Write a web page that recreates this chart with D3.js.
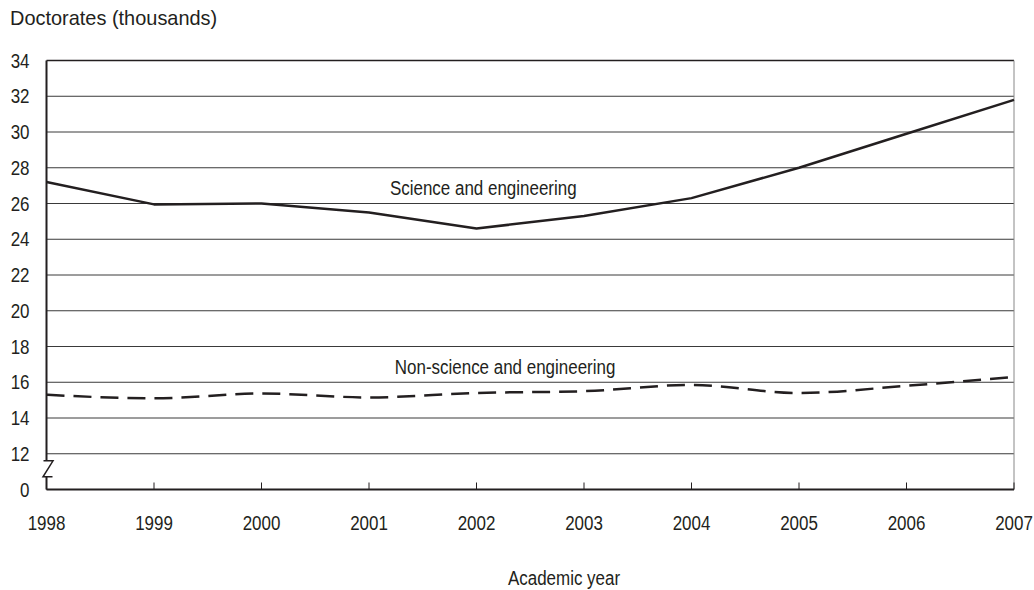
<!DOCTYPE html>
<html>
<head>
<meta charset="utf-8">
<script src="https://cdn.jsdelivr.net/npm/d3@7"></script>
<style>
  body { margin: 0; background: #fff; }
  svg text { font-family: "Liberation Sans", Arial, sans-serif; fill: #231f20; }
</style>
</head>
<body>
<div id="chart"></div>
<script>
// data
let years = [1998, 1999, 2000, 2001, 2002, 2003, 2004, 2005, 2006, 2007];
let scienceEng = [27.2, 25.95, 26.0, 25.5, 24.6, 25.3, 26.3, 28.0, 29.9, 31.8];
let nonScienceEng = [15.3, 15.1, 15.37, 15.15, 15.4, 15.5, 15.85, 15.4, 15.8, 16.3];
let yTicks = [0, 12, 14, 16, 18, 20, 22, 24, 26, 28, 30, 32, 34];

let svgWidth = 1034, svgHeight = 590;
let margin = { top: 60.5, left: 46.5 };
let width = 1014 - margin.left;
let height = 489.5 - margin.top;

// the reference type is a slightly condensed sans
let squeeze = 0.87;
function place(x, y, sx) {
    return 'translate(' + x + ',' + y + ') scale(' + (sx || squeeze) + ',1)';
}

let svg = d3.select('#chart').append('svg')
    .attr('width', svgWidth)
    .attr('height', svgHeight);

let g = svg.append('g')
    .attr('transform', 'translate(' + margin.left + ',' + margin.top + ')');

let x = d3.scaleLinear()
    .domain([d3.min(years), d3.max(years)])
    .range([0, width]);

// broken axis: 0 sits one step below 12
let yLin = d3.scaleLinear().domain([10, 34]).range([height, 0]);
let y = v => v === 0 ? yLin(10) : yLin(v);

// gridlines
g.selectAll('.grid')
    .data(yTicks.filter(t => t !== 0))
    .enter().append('line')
    .attr('x1', 0)
    .attr('x2', width)
    .attr('y1', d => y(d))
    .attr('y2', d => y(d))
    .attr('stroke', d => d === 34 ? '#231f20' : '#3a3a3a')
    .attr('stroke-width', d => d === 34 ? 1.5 : 1);

// right border
g.append('line')
    .attr('x1', width).attr('x2', width)
    .attr('y1', 0).attr('y2', height)
    .attr('stroke', '#888').attr('stroke-width', 1);

// y axis labels
g.selectAll('.ylab')
    .data(yTicks)
    .enter().append('text')
    .attr('transform', d => place(-17, y(d)))
    .attr('dy', '0.36em')
    .attr('text-anchor', 'end')
    .style('font-size', '19.5px')
    .text(d => d);

// x axis ticks (pointing up) and labels
g.selectAll('.xtick')
    .data(years)
    .enter().append('line')
    .attr('x1', d => x(d)).attr('x2', d => x(d))
    .attr('y1', height).attr('y2', height - 7)
    .attr('stroke', '#231f20').attr('stroke-width', 1);

g.selectAll('.xlab')
    .data(years)
    .enter().append('text')
    .attr('transform', d => place(x(d), height + 40))
    .attr('text-anchor', 'middle')
    .style('font-size', '19.5px')
    .text(d => d);

// axis lines, the left one broken by the Z mark
let breakTop = y(11.1) - 9, breakBottom = y(11.1) + 7;
g.append('line')
    .attr('x1', 0).attr('x2', width)
    .attr('y1', height).attr('y2', height)
    .attr('stroke', '#231f20').attr('stroke-width', 2);
g.append('line')
    .attr('x1', 0).attr('x2', 0)
    .attr('y1', 0).attr('y2', breakTop)
    .attr('stroke', '#231f20').attr('stroke-width', 2);
g.append('line')
    .attr('x1', 0).attr('x2', 0)
    .attr('y1', breakBottom).attr('y2', height)
    .attr('stroke', '#231f20').attr('stroke-width', 2);

g.append('path')
    .attr('d', 'M-3,' + breakTop + ' L6.5,' + breakTop + ' L-3.5,' + breakBottom + ' L6,' + breakBottom)
    .attr('fill', 'none')
    .attr('stroke', '#231f20')
    .attr('stroke-width', 1.5);

// lines
let line = d3.line()
    .x((d, i) => x(years[i]))
    .y(d => y(d));

g.append('path')
    .datum(scienceEng)
    .attr('d', line)
    .attr('fill', 'none')
    .attr('stroke', '#231f20')
    .attr('stroke-width', 2.5)
    .attr('stroke-linejoin', 'round');

g.append('path')
    .datum(nonScienceEng)
    .attr('d', line.curve(d3.curveMonotoneX))
    .attr('fill', 'none')
    .attr('stroke', '#231f20')
    .attr('stroke-width', 2.5)
    .attr('stroke-dasharray', '18,9');

// series labels
g.append('text')
    .attr('transform', place(x(2001.195), y(26.48)))
    .style('font-size', '19.5px')
    .text('Science and engineering');

g.append('text')
    .attr('transform', place(x(2001.24), y(16.48)))
    .style('font-size', '19.5px')
    .text('Non-science and engineering');

// titles
svg.append('text')
    .attr('transform', place(10, 25, 0.95))
    .style('font-size', '21px')
    .text('Doctorates (thousands)');

svg.append('text')
    .attr('transform', place(564, 585))
    .attr('text-anchor', 'middle')
    .style('font-size', '19.5px')
    .text('Academic year');
</script>
</body>
</html>
